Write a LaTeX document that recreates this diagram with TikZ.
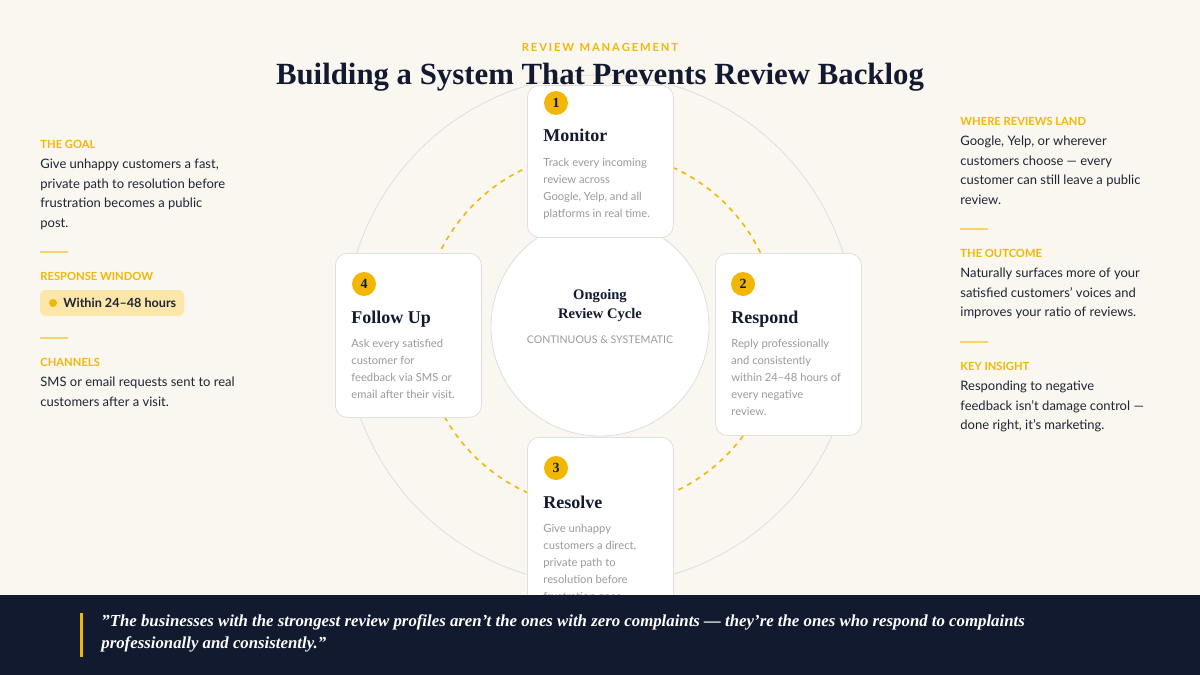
\documentclass[tikz,border=0pt]{standalone}
\usepackage{fontspec}
\setmainfont{Liberation Serif}
\setsansfont{Lato}
\definecolor{cream}{HTML}{FAF7F1}
\definecolor{navy}{HTML}{121A30}
\definecolor{gold}{HTML}{F2B705}
\definecolor{ink}{HTML}{1E2433}
\definecolor{mute}{HTML}{9A9A9A}
\definecolor{pill}{HTML}{FCE6AA}
\tikzset{
  card/.style={draw=black!12,fill=white,rounded corners=6pt,line width=0.4pt,minimum width=73pt,anchor=north west},
  badge/.style={circle,fill=gold,inner sep=0pt,minimum size=12pt,font=\fontsize{7}{7}\selectfont\bfseries,text=navy},
  stepname/.style={anchor=base west,inner sep=0pt,font=\fontsize{9}{9}\selectfont\bfseries,text=navy},
  desc/.style={anchor=north west,inner sep=0pt,align=left,text=mute,font=\sffamily\fontsize{5.6}{8.5}\selectfont},
  head/.style={anchor=base west,inner sep=0pt,text=gold,font=\sffamily\bfseries\fontsize{5.6}{5.6}\selectfont},
  body/.style={anchor=north west,inner sep=0pt,align=left,text=ink,font=\sffamily\fontsize{6.5}{9.75}\selectfont},
  rule/.style={gold!60,line width=0.6pt}
}
\begin{document}
\begin{tikzpicture}[x=0.5pt,y=-0.5pt]
\useasboundingbox (0,0) rectangle (1200,675);
\fill[cream] (0,0) rectangle (1200,675);

% rings
\node[circle,draw=black!13,line width=0.4pt,minimum size=255pt,inner sep=0pt] (ring) at (600,330) {};
\node[circle,draw=gold,dash pattern=on 2.5pt off 2.5pt,line width=0.8pt,minimum size=178pt,inner sep=0pt] (loop) at (600,330) {};
\node[circle,draw=black!13,fill=white,line width=0.4pt,minimum size=109pt,inner sep=0pt] (hub) at (600,327) {};
\node[inner sep=0pt,align=center,font=\fontsize{7.3}{9.5}\selectfont\bfseries,text=navy] (hubtitle) at (600,306) {Ongoing\\Review Cycle};
\node[inner sep=0pt,font=\sffamily\fontsize{5.3}{5.3}\selectfont,text=mute] (hubsub) at (600,340) {CONTINUOUS \& SYSTEMATIC};

% cards
\node[card,minimum height=76pt] (monitor) at (527,85) {};
\node[badge] (b1) at (556,103) {1};
\node[stepname] at (543,141) {Monitor};
\node[desc] at (543,158) {Track every incoming\\review across\\Google, Yelp, and all\\platforms in real time.};

\node[card,minimum height=91pt] (respond) at (715,253) {};
\node[badge] (b2) at (743,284) {2};
\node[stepname] at (731,323) {Respond};
\node[desc] at (731,339) {Reply professionally\\and consistently\\within 24--48 hours of\\every negative\\review.};

\node[card,minimum height=82pt] (follow) at (335,253) {};
\node[badge] (b4) at (364,284) {4};
\node[stepname] at (351,323) {Follow Up};
\node[desc] at (351,339) {Ask every satisfied\\customer for\\feedback via SMS or\\email after their visit.};

\node[card,minimum height=90pt] (resolve) at (527,437) {};
\node[badge] (b3) at (556,468) {3};
\node[stepname] at (543,508) {Resolve};
\node[desc] at (543,524) {Give unhappy\\customers a direct,\\private path to\\resolution before\\frustration goes};

% left column
\node[head] (goal) at (40,148) {THE GOAL};
\node[body] at (40,159) {Give unhappy customers a fast,\\private path to resolution before\\frustration becomes a public\\post.};
\draw[rule] (40,252) -- (68,252);
\node[head] (window) at (40,280) {RESPONSE WINDOW};
\fill[pill,rounded corners=2.5pt] (40,290) rectangle (184,316);
\fill[gold] (53,303) circle (2pt);
\node[anchor=west,inner sep=0pt,text=ink,font=\sffamily\bfseries\fontsize{6.3}{6.3}\selectfont] (win) at (63,303) {Within 24--48 hours};
\draw[rule] (40,338) -- (68,338);
\node[head] (chan) at (40,366) {CHANNELS};
\node[body] at (40,377) {SMS or email requests sent to real\\customers after a visit.};

% right column
\node[head] (land) at (960,125) {WHERE REVIEWS LAND};
\node[body] at (960,136) {Google, Yelp, or wherever\\customers choose --- every\\customer can still leave a public\\review.};
\draw[rule] (960,229) -- (988,229);
\node[head] (outcome) at (960,257) {THE OUTCOME};
\node[body] at (960,268) {Naturally surfaces more of your\\satisfied customers' voices and\\improves your ratio of reviews.};
\draw[rule] (960,342) -- (988,342);
\node[head] (insight) at (960,370) {KEY INSIGHT};
\node[body] at (960,381) {Responding to negative\\feedback isn't damage control ---\\done right, it's marketing.};

% header
\node[inner sep=0pt,text=gold,font=\sffamily\bfseries\fontsize{5.6}{5.6}\selectfont] (kicker) at (600,47) {R\,E\,V\,I\,E\,W\ \ M\,A\,N\,A\,G\,E\,M\,E\,N\,T};
\node[inner sep=0pt,text=navy,font=\fontsize{15.4}{15.4}\selectfont\bfseries] (title) at (600,77) {Building a System That Prevents Review Backlog};

% quote band
\fill[navy] (0,595) rectangle (1200,675);
\draw[gold,line width=1.5pt] (81,613) -- (81,657);
\node[anchor=north west,inner sep=0pt,align=left,text=white,font=\fontsize{8.4}{11}\selectfont\bfseries\itshape] (quote) at (101,614) {\symbol{34}The businesses with the strongest review profiles aren't the ones with zero complaints --- they're the ones who respond to complaints\\professionally and consistently.\symbol{34}};
\end{tikzpicture}
\end{document}
